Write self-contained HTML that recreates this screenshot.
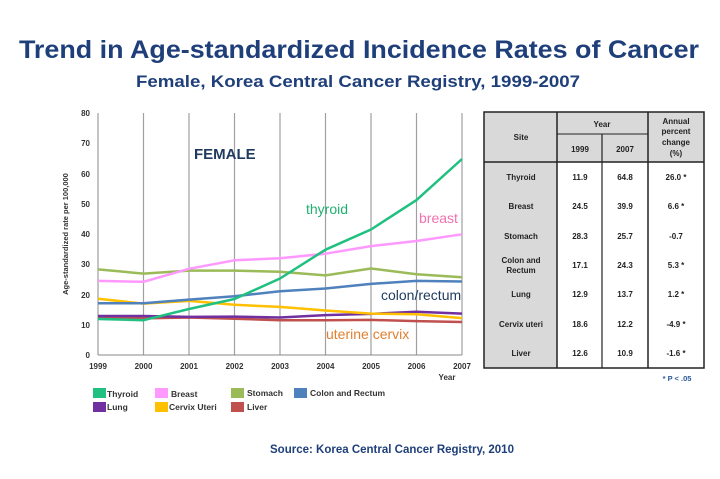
<!DOCTYPE html>
<html><head><meta charset="utf-8"><style>
html,body{margin:0;padding:0;background:#fff;}
svg{display:block;font-family:"Liberation Sans",Arial,sans-serif;}
</style></head><body>
<svg width="720" height="479" viewBox="0 0 720 479" xmlns="http://www.w3.org/2000/svg">
<rect width="720" height="479" fill="#fff"/>
<text x="359" y="58" text-anchor="middle" font-size="25" font-weight="bold" fill="#1f3f7a" textLength="680" lengthAdjust="spacingAndGlyphs">Trend in Age-standardized Incidence Rates of Cancer</text>
<text x="358" y="87" text-anchor="middle" font-size="17" font-weight="bold" fill="#1f3f7a" textLength="444" lengthAdjust="spacingAndGlyphs">Female, Korea Central Cancer Registry, 1999-2007</text>

<g stroke="#a0a0a0" stroke-width="1.2">
<line x1="143.5" y1="113" x2="143.5" y2="355"/><line x1="189" y1="113" x2="189" y2="355"/>
<line x1="234.5" y1="113" x2="234.5" y2="355"/><line x1="280" y1="113" x2="280" y2="355"/>
<line x1="325.5" y1="113" x2="325.5" y2="355"/><line x1="371" y1="113" x2="371" y2="355"/>
<line x1="416.5" y1="113" x2="416.5" y2="355"/><line x1="462" y1="113" x2="462" y2="355"/>
</g>
<line x1="98" y1="113" x2="98" y2="355" stroke="#888" stroke-width="1"/>
<line x1="98" y1="355" x2="462" y2="355" stroke="#888" stroke-width="1"/>
<g font-size="8" font-weight="bold" fill="#333" text-anchor="end">
<text x="90" y="116">80</text><text x="90" y="146">70</text><text x="90" y="177">60</text>
<text x="90" y="207">50</text><text x="90" y="237">40</text><text x="90" y="267">30</text>
<text x="90" y="298">20</text><text x="90" y="328">10</text><text x="90" y="358">0</text>
</g>
<g font-size="8" font-weight="bold" fill="#333" text-anchor="middle">
<text x="98" y="369">1999</text><text x="143.5" y="369">2000</text><text x="189" y="369">2001</text>
<text x="234.5" y="369">2002</text><text x="280" y="369">2003</text><text x="325.5" y="369">2004</text>
<text x="371" y="369">2005</text><text x="416.5" y="369">2006</text><text x="462" y="369">2007</text>
<text x="447" y="380">Year</text>
</g>
<text x="68" y="234" font-size="7.5" font-weight="bold" fill="#333" text-anchor="middle" transform="rotate(-90 68 234)">Age-standardized  rate per 100,000</text>
<text x="194" y="159" font-size="15" font-weight="bold" fill="#1f3a5f">FEMALE</text>

<g fill="none" stroke-width="2.5" stroke-linejoin="round">
<polyline stroke="#c0504d" points="98,316.9 143.5,318.4 189,317.5 234.5,318.7 280,320.2 325.5,320.2 371,319.9 416.5,321.1 462,322"/>
<polyline stroke="#7030a0" points="98,316 143.5,316 189,316.9 234.5,316.6 280,317.5 325.5,315.1 371,313.9 416.5,311.7 462,313.6"/>
<polyline stroke="#ffc000" points="98,298.7 143.5,303.6 189,300.9 234.5,304.8 280,306.9 325.5,310.5 371,313.6 416.5,314.2 462,318.1"/>
<polyline stroke="#4f81bd" points="98,303.3 143.5,303.3 189,299.6 234.5,296.3 280,291.2 325.5,288.5 371,283.9 416.5,280.9 462,281.5"/>
<polyline stroke="#9bbb59" points="98,269.4 143.5,273.6 189,270.6 234.5,270.6 280,271.8 325.5,275.4 371,268.5 416.5,274.2 462,277.3"/>
<polyline stroke="#ff99ff" points="98,280.9 143.5,281.8 189,268.8 234.5,260.3 280,258.2 325.5,253.7 371,246.1 416.5,241 462,234.3"/>
<polyline stroke="#20c080" points="98,319 143.5,320.2 189,309 234.5,299 280,278.5 325.5,249.7 371,229.5 416.5,200.1 462,159"/>
</g>
<text x="306" y="214" font-size="14" fill="#20b070">thyroid</text>
<text x="419" y="223" font-size="14" fill="#f070b0">breast</text>
<text x="381" y="300" font-size="14" fill="#1f3a5f">colon/rectum</text>
<text x="326" y="339" font-size="14" fill="#e08030">uterine cervix</text>

<g font-size="8.5" font-weight="bold" fill="#333">
<rect x="93" y="388" width="13" height="10" fill="#20c080"/><text x="107" y="397">Thyroid</text>
<rect x="155" y="388" width="13" height="10" fill="#ff99ff"/><text x="171" y="397">Breast</text>
<rect x="231" y="388" width="13" height="10" fill="#9bbb59"/><text x="247" y="396">Stomach</text>
<rect x="294" y="388" width="13" height="10" fill="#4f81bd"/><text x="310" y="396">Colon and Rectum</text>
<rect x="93" y="402" width="13" height="10" fill="#7030a0"/><text x="107" y="410">Lung</text>
<rect x="155" y="402" width="13" height="10" fill="#ffc000"/><text x="169" y="410">Cervix Uteri</text>
<rect x="231" y="402" width="13" height="10" fill="#c0504d"/><text x="247" y="410">Liver</text>
</g>

<!-- table -->
<rect x="484" y="112" width="73" height="256" fill="#d9d9d9"/>
<rect x="557" y="112" width="91" height="22" fill="#d9d9d9"/>
<rect x="557" y="134" width="91" height="28" fill="#d9d9d9"/>
<rect x="648" y="112" width="56" height="50" fill="#d9d9d9"/>
<g stroke="#222" fill="none">
<rect x="484" y="112" width="220" height="256" stroke-width="1.5"/>
<line x1="557" y1="112" x2="557" y2="368" stroke-width="1.5"/>
<line x1="648" y1="112" x2="648" y2="368" stroke-width="1.5"/>
<line x1="602" y1="134" x2="602" y2="368" stroke-width="1.2"/>
<line x1="557" y1="134" x2="648" y2="134" stroke-width="1"/>
<line x1="484" y1="162" x2="704" y2="162" stroke-width="1.5"/>
</g>
<g font-size="8" font-weight="bold" fill="#222" text-anchor="middle">
<text x="521" y="140">Site</text>
<text x="602" y="127">Year</text>
<text x="580" y="152">1999</text><text x="625" y="152">2007</text>
<text x="676" y="124">Annual</text><text x="676" y="134">percent</text><text x="676" y="145">change</text><text x="676" y="156">(%)</text>
<text x="521" y="180">Thyroid</text><text x="580" y="180">11.9</text><text x="625" y="180">64.8</text><text x="676" y="180">26.0 *</text>
<text x="521" y="209">Breast</text><text x="580" y="209">24.5</text><text x="625" y="209">39.9</text><text x="676" y="209">6.6 *</text>
<text x="521" y="239">Stomach</text><text x="580" y="239">28.3</text><text x="625" y="239">25.7</text><text x="676" y="239">-0.7</text>
<text x="521" y="263">Colon and</text><text x="521" y="273">Rectum</text><text x="580" y="268">17.1</text><text x="625" y="268">24.3</text><text x="676" y="268">5.3 *</text>
<text x="521" y="297">Lung</text><text x="580" y="297">12.9</text><text x="625" y="297">13.7</text><text x="676" y="297">1.2 *</text>
<text x="521" y="327">Cervix uteri</text><text x="580" y="327">18.6</text><text x="625" y="327">12.2</text><text x="676" y="327">-4.9 *</text>
<text x="521" y="356">Liver</text><text x="580" y="356">12.6</text><text x="625" y="356">10.9</text><text x="676" y="356">-1.6 *</text>
</g>
<text x="677" y="381" font-size="7.5" font-weight="bold" fill="#2a5a9a" text-anchor="middle">* P &lt; .05</text>

<text x="392" y="453" font-size="11.5" font-weight="bold" fill="#1f3f7a" text-anchor="middle">Source: Korea Central Cancer Registry, 2010</text>
</svg>
</body></html>
